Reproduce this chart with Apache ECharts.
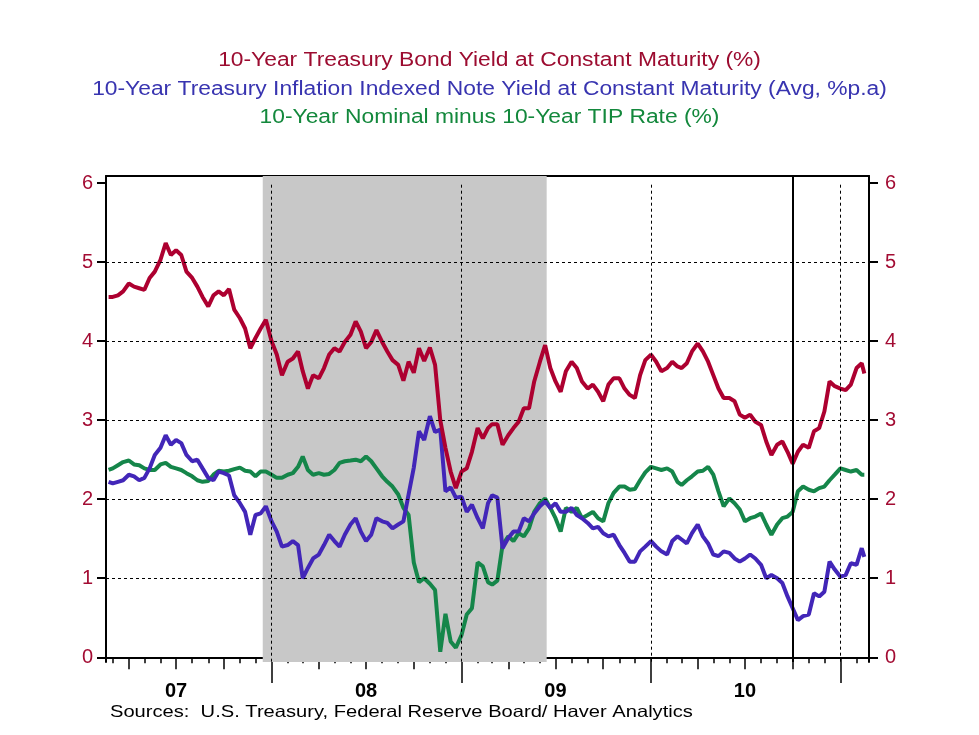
<!DOCTYPE html>
<html>
<head>
<meta charset="utf-8">
<script src="https://cdn.jsdelivr.net/npm/echarts@6/dist/echarts.min.js"></script>
<style>
  html, body { margin: 0; padding: 0; background: #ffffff; }
  #chart { width: 979px; height: 735px; }
</style>
</head>
<body>
<div id="chart"></div>
<script>
// sample dates (roughly every ten days)
const dates = [
  '2007-02-21',
  '2007-03-01','2007-03-11','2007-03-21','2007-04-01','2007-04-11','2007-04-21',
  '2007-05-01','2007-05-11','2007-05-21','2007-06-01','2007-06-11','2007-06-21',
  '2007-07-01','2007-07-11','2007-07-21','2007-08-01','2007-08-11','2007-08-21',
  '2007-09-01','2007-09-11','2007-09-21','2007-10-01','2007-10-11','2007-10-21',
  '2007-11-01','2007-11-11','2007-11-21','2007-12-01','2007-12-11','2007-12-21',
  '2008-01-01','2008-01-11','2008-01-21','2008-02-01','2008-02-11','2008-02-21',
  '2008-03-01','2008-03-11','2008-03-21','2008-04-01','2008-04-11','2008-04-21',
  '2008-05-01','2008-05-11','2008-05-21','2008-06-01','2008-06-11','2008-06-21',
  '2008-07-01','2008-07-11','2008-07-21','2008-08-01','2008-08-11','2008-08-21',
  '2008-09-01','2008-09-11','2008-09-21','2008-10-01','2008-10-11','2008-10-21',
  '2008-11-01','2008-11-11','2008-11-21','2008-12-01','2008-12-11','2008-12-21',
  '2009-01-01','2009-01-11','2009-01-21','2009-02-01','2009-02-11','2009-02-21',
  '2009-03-01','2009-03-11','2009-03-21','2009-04-01','2009-04-11','2009-04-21',
  '2009-05-01','2009-05-11','2009-05-21','2009-06-01','2009-06-11','2009-06-21',
  '2009-07-01','2009-07-11','2009-07-21','2009-08-01','2009-08-11','2009-08-21',
  '2009-09-01','2009-09-11','2009-09-21','2009-10-01','2009-10-11','2009-10-21',
  '2009-11-01','2009-11-11','2009-11-21','2009-12-01','2009-12-11','2009-12-21',
  '2010-01-01','2010-01-11','2010-01-21','2010-02-01','2010-02-11','2010-02-21',
  '2010-03-01','2010-03-11','2010-03-21','2010-04-01','2010-04-11','2010-04-21',
  '2010-05-01','2010-05-11','2010-05-21','2010-06-01','2010-06-11','2010-06-21',
  '2010-07-01','2010-07-11','2010-07-21','2010-08-01','2010-08-11','2010-08-21',
  '2010-09-01','2010-09-11','2010-09-21','2010-10-01','2010-10-11','2010-10-21',
  '2010-11-01','2010-11-11','2010-11-21','2010-12-01','2010-12-11','2010-12-21',
  '2011-01-01','2011-01-11','2011-01-21','2011-02-01','2011-02-11','2011-02-16'
];

// 10-Year Treasury Bond Yield at Constant Maturity (%)
const nominal = [
  4.56,
  4.56, 4.58, 4.63, 4.73, 4.69, 4.67, 4.65, 4.80, 4.88, 5.03, 5.24, 5.09,
  5.15, 5.09, 4.88, 4.80, 4.69, 4.56, 4.44, 4.58, 4.63, 4.58, 4.66, 4.40,
  4.29, 4.16, 3.91, 4.04, 4.16, 4.27,
  4.00, 3.83, 3.57, 3.74, 3.78, 3.87, 3.62, 3.40, 3.57, 3.53, 3.66, 3.83,
  3.91, 3.87, 3.99, 4.08, 4.25, 4.12, 3.91, 3.99, 4.14, 3.99, 3.87, 3.76,
  3.70, 3.50, 3.74, 3.60, 3.91, 3.75, 3.92, 3.70, 3.00, 2.65, 2.35, 2.14,
  2.35, 2.39, 2.60, 2.90, 2.77, 2.90, 2.95, 2.95, 2.69, 2.81, 2.90, 2.98,
  3.15, 3.15, 3.49, 3.74, 3.95, 3.66, 3.49, 3.36, 3.62, 3.74, 3.66, 3.49,
  3.40, 3.45, 3.36, 3.24, 3.45, 3.53, 3.53, 3.40, 3.32, 3.28, 3.57, 3.76,
  3.83, 3.74, 3.62, 3.66, 3.74, 3.68, 3.66, 3.72, 3.87, 3.97, 3.87, 3.74,
  3.57, 3.40, 3.28, 3.28, 3.24, 3.07, 3.03, 3.07, 2.98, 2.94, 2.73, 2.56,
  2.69, 2.73, 2.60, 2.45, 2.60, 2.69, 2.65, 2.86, 2.90, 3.11, 3.49, 3.43,
  3.40, 3.38, 3.45, 3.66, 3.72, 3.59
];

// 10-Year Treasury Inflation Indexed Note Yield at Constant Maturity
const tips = [
  2.22,
  2.20, 2.22, 2.24, 2.31, 2.29, 2.24, 2.27, 2.39, 2.56, 2.65, 2.81, 2.69,
  2.75, 2.71, 2.56, 2.48, 2.50, 2.39, 2.27, 2.24, 2.35, 2.33, 2.30, 2.05,
  1.95, 1.84, 1.55, 1.80, 1.82, 1.91,
  1.72, 1.59, 1.40, 1.42, 1.47, 1.42, 1.00, 1.13, 1.25, 1.30, 1.42, 1.55,
  1.47, 1.40, 1.55, 1.68, 1.76, 1.59, 1.47, 1.55, 1.76, 1.72, 1.70, 1.63,
  1.68, 1.72, 2.06, 2.40, 2.86, 2.75, 3.05, 2.85, 2.88, 2.10, 2.15, 2.02,
  2.03, 1.84, 1.93, 1.76, 1.63, 1.95, 2.05, 2.02, 1.38, 1.51, 1.59, 1.59,
  1.76, 1.72, 1.82, 1.91, 1.97, 1.89, 1.95, 1.84, 1.84, 1.89, 1.80, 1.76,
  1.70, 1.63, 1.65, 1.57, 1.53, 1.55, 1.42, 1.32, 1.21, 1.21, 1.34, 1.40,
  1.47, 1.40, 1.34, 1.30, 1.47, 1.53, 1.49, 1.44, 1.57, 1.68, 1.53, 1.44,
  1.30, 1.28, 1.34, 1.32, 1.25, 1.21, 1.25, 1.30, 1.25, 1.17, 1.00, 1.04,
  1.00, 0.94, 0.77, 0.62, 0.47, 0.52, 0.54, 0.81, 0.77, 0.83, 1.21, 1.11,
  1.02, 1.04, 1.19, 1.17, 1.38, 1.27
];

// 10-Year Nominal minus 10-Year TIP Rate (%)
const spread = [
  2.37,
  2.39, 2.43, 2.47, 2.49, 2.44, 2.43, 2.39, 2.37, 2.37, 2.44, 2.46, 2.41,
  2.39, 2.37, 2.33, 2.29, 2.24, 2.22, 2.23, 2.31, 2.36, 2.35, 2.36, 2.38,
  2.40, 2.36, 2.35, 2.29, 2.35, 2.35,
  2.31, 2.27, 2.27, 2.31, 2.33, 2.41, 2.54, 2.37, 2.31, 2.33, 2.31, 2.32,
  2.37, 2.46, 2.48, 2.49, 2.50, 2.48, 2.54, 2.48, 2.39, 2.29, 2.22, 2.16,
  2.06, 1.89, 1.80, 1.20, 0.95, 1.00, 0.93, 0.85, 0.07, 0.55, 0.20, 0.12,
  0.28, 0.54, 0.62, 1.20, 1.15, 0.95, 0.92, 0.97, 1.42, 1.53, 1.47, 1.57,
  1.53, 1.63, 1.84, 1.95, 2.01, 1.89, 1.76, 1.59, 1.89, 1.84, 1.89, 1.76,
  1.80, 1.84, 1.76, 1.72, 1.95, 2.08, 2.16, 2.16, 2.12, 2.13, 2.24, 2.34,
  2.41, 2.39, 2.37, 2.39, 2.35, 2.22, 2.18, 2.24, 2.29, 2.35, 2.36, 2.41,
  2.31, 2.10, 1.91, 2.01, 1.95, 1.87, 1.72, 1.76, 1.78, 1.82, 1.68, 1.55,
  1.68, 1.76, 1.78, 1.84, 2.10, 2.16, 2.12, 2.10, 2.14, 2.16, 2.24, 2.31,
  2.39, 2.37, 2.35, 2.37, 2.31, 2.31
];

const yTicks = [0, 1, 2, 3, 4, 5, 6];
const gridLevels = [1, 2, 3, 4, 5];
const labelYears = [2007, 2008, 2009, 2010];
const yearLabels = ['07', '08', '09', '10'];
const yearLines = ['2008-01-01', '2009-01-01', '2010-01-01', '2011-01-01'];
const recession = ['2007-12-15', '2009-06-14'];
const markerDate = '2010-10-01';
const xStart = '2007-02-16';
const xEnd = '2011-02-25';

const titles = [
  { text: '10-Year Treasury Bond Yield at Constant Maturity (%)', color: '#9c0c30', top: 51 },
  { text: '10-Year Treasury Inflation Indexed Note Yield at Constant Maturity (Avg, %p.a)', color: '#3834b0', top: 80 },
  { text: '10-Year Nominal minus 10-Year TIP Rate (%)', color: '#13883c', top: 108 },
];
const sourceText = 'Sources:  U.S. Treasury, Federal Reserve Board/ Haver Analytics';

const colors = ['#ad0030', '#4226b8', '#15864a'];
const font = '"Liberation Sans", Arial, sans-serif';

// local-time timestamp from 'YYYY-MM-DD'
function toTime(s) {
  const p = s.split('-').map(Number);
  return new Date(p[0], p[1] - 1, p[2]).getTime();
}

const t0 = toTime(xStart);
const t1 = toTime(xEnd);

// tick positions: months, quarters, years
const monthTicks = [];
const quarterTicks = [];
const yearTicks = [];
for (let y = 2007; y <= 2011; y++) {
  for (let m = 0; m < 12; m++) {
    const t = new Date(y, m, 1).getTime();
    if (t < t0 || t > t1) continue;
    monthTicks.push(t);
    if (m === 0) yearTicks.push(t);
    else if (m % 3 === 0) quarterTicks.push(t);
  }
}
const labelTicks = labelYears.map((y) => new Date(y, 6, 1).getTime());

const chart = echarts.init(document.getElementById('chart'), null, { renderer: 'canvas' });

function tickAxis(values, len) {
  return {
    type: 'value',
    position: 'bottom',
    min: t0,
    max: t1,
    axisLine: { show: false },
    axisTick: {
      show: true,
      customValues: values,
      length: len,
      lineStyle: { color: '#000', width: 1.5 },
    },
    axisLabel: { show: false },
    splitLine: { show: false },
  };
}

function valueAxis(pos, margin) {
  return {
    type: 'value',
    position: pos,
    min: -0.06,
    max: 6.09,
    axisLine: { show: true, lineStyle: { color: '#000', width: 2 } },
    axisTick: {
      show: true,
      customValues: yTicks,
      length: 9,
      lineStyle: { color: '#000', width: 2 },
    },
    axisLabel: {
      customValues: yTicks,
      margin: margin,
      color: '#a30c33',
      fontSize: 20,
      fontFamily: font,
    },
    splitLine: { show: false },
  };
}

const option = {
  animation: false,
  backgroundColor: '#ffffff',
  grid: { left: 106, right: 110, top: 176, bottom: 73 },
  graphic: titles.map((t) => ({
    type: 'text',
    x: 489.5,
    y: t.top,
    scaleX: 1.17,
    style: {
      text: t.text,
      fill: t.color,
      font: '19.5px ' + font,
      align: 'center',
      verticalAlign: 'top',
    },
  })).concat([
    {
      type: 'text',
      x: 110,
      y: 704,
      scaleX: 1.22,
      style: {
        text: sourceText,
        fill: '#000',
        font: '16.5px ' + font,
        align: 'left',
        verticalAlign: 'top',
      },
    },
  ]),
  xAxis: [
    {
      type: 'value',
      position: 'bottom',
      min: t0,
      max: t1,
      axisLine: { show: true, lineStyle: { color: '#000', width: 2 } },
      axisTick: {
        show: true,
        customValues: monthTicks,
        length: 6,
        lineStyle: { color: '#000', width: 1.5 },
      },
      axisLabel: {
        customValues: labelTicks,
        formatter: (v) => yearLabels[labelYears.indexOf(new Date(v).getFullYear())],
        margin: 19,
        color: '#000',
        fontSize: 20,
        fontWeight: 'bold',
        fontFamily: font,
      },
      splitLine: { show: false },
    },
    tickAxis(quarterTicks, 12),
    tickAxis(yearTicks, 21),
    {
      type: 'value',
      position: 'top',
      min: t0,
      max: t1,
      axisLine: { show: true, lineStyle: { color: '#000', width: 2 } },
      axisTick: { show: false },
      axisLabel: { show: false },
      splitLine: { show: false },
    },
  ],
  yAxis: [valueAxis('left', 13), valueAxis('right', 16)],
  series: [
    {
      name: '10-Year Nominal minus 10-Year TIP Rate',
      type: 'line',
      z: 2,
      data: dates.map((d, i) => [toTime(d), spread[i]]),
      showSymbol: false,
      lineStyle: { color: colors[2], width: 4 },
      itemStyle: { color: colors[2] },
      markArea: {
        silent: true,
        itemStyle: { color: '#c8c8c8' },
        data: [[{ xAxis: toTime(recession[0]) }, { xAxis: toTime(recession[1]) }]],
      },
      markLine: {
        silent: true,
        symbol: ['none', 'none'],
        label: { show: false },
        lineStyle: { color: '#000', type: [3, 3], width: 1 },
        data: gridLevels.map((v) => ({ yAxis: v }))
          .concat(yearLines.map((d) => [
            { xAxis: toTime(d), yAxis: 5.98 },
            { xAxis: toTime(d), yAxis: -0.06 },
          ])),
      },
    },
    {
      name: '10-Year TIPS Yield',
      type: 'line',
      z: 3,
      data: dates.map((d, i) => [toTime(d), tips[i]]),
      showSymbol: false,
      lineStyle: { color: colors[1], width: 4 },
      itemStyle: { color: colors[1] },
    },
    {
      name: '10-Year Treasury Yield',
      type: 'line',
      z: 4,
      data: dates.map((d, i) => [toTime(d), nominal[i]]),
      showSymbol: false,
      lineStyle: { color: colors[0], width: 4 },
      itemStyle: { color: colors[0] },
      markLine: {
        silent: true,
        symbol: ['none', 'none'],
        label: { show: false },
        lineStyle: { color: '#000', type: 'solid', width: 2 },
        data: [{ xAxis: toTime(markerDate) }],
      },
    },
  ],
};

chart.setOption(option);
</script>
</body>
</html>
